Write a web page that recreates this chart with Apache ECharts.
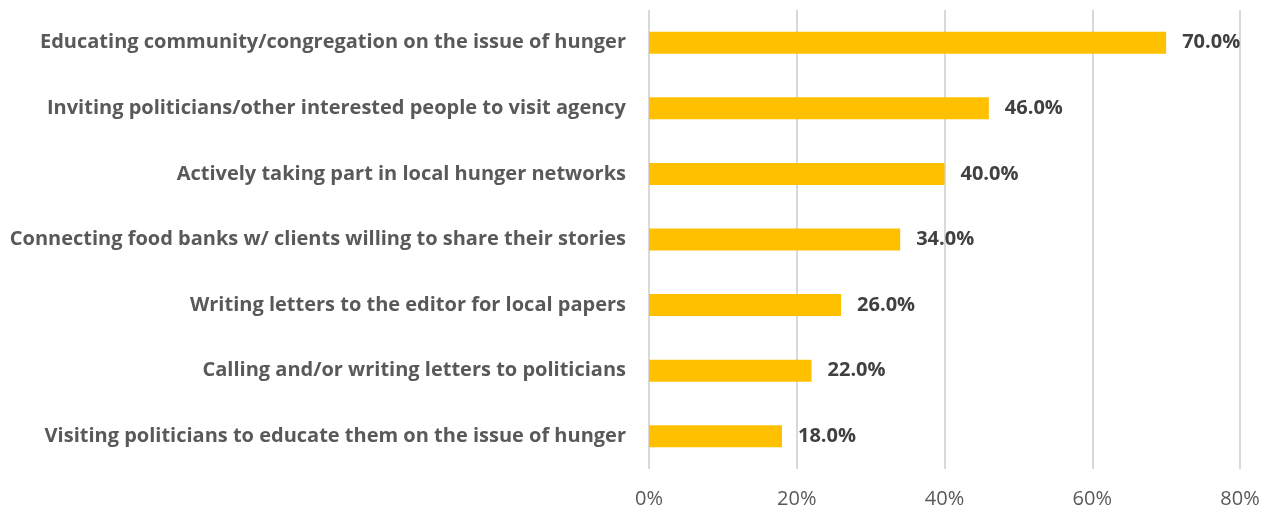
<!DOCTYPE html>
<html>
<head>
<meta charset="utf-8">
<script src="https://cdn.jsdelivr.net/npm/echarts@6/dist/echarts.min.js"></script>
<style>
html,body{margin:0;padding:0;background:#fff;}
#c{width:1274px;height:510px;}
</style>
</head>
<body>
<div id="c"></div>
<script>
const categories = [
  "Educating community/congregation on the issue of hunger",
  "Inviting politicians/other interested people to visit agency",
  "Actively taking part in local hunger networks",
  "Connecting food banks w/ clients willing to share their stories",
  "Writing letters to the editor for local papers",
  "Calling and/or writing letters to politicians",
  "Visiting politicians to educate them on the issue of hunger"
];
const values = [70, 46, 40, 34, 26, 22, 18];
const tickLabels = ["0%", "20%", "40%", "60%", "80%"];

const chart = echarts.init(document.getElementById('c'), null, {renderer: 'canvas'});
const font = "'Open Sans', 'Noto Sans', sans-serif";
chart.setOption({
  animation: false,
  backgroundColor: '#ffffff',
  grid: {left: 649, right: 34, top: 10, bottom: 41, containLabel: false},
  xAxis: {
    type: 'value', min: 0, max: 80, interval: 20,
    axisLine: {show: false}, axisTick: {show: false},
    splitLine: {show: true, lineStyle: {color: '#d9d9d9', width: 2}},
    axisLabel: {
      color: '#595959', fontSize: 20, fontFamily: font, margin: 20,
      formatter: function (v) { return tickLabels[Math.round(v / 20)]; }
    }
  },
  yAxis: {
    type: 'category', data: categories, inverse: true,
    axisLine: {show: false}, axisTick: {show: false},
    axisLabel: {color: '#595959', fontSize: 20, fontWeight: 'bold', fontFamily: font, margin: 23}
  },
  series: [{
    type: 'bar', data: values, barWidth: 22,
    itemStyle: {color: '#ffc000'},
    label: {
      show: true, position: 'right', distance: 16,
      color: '#404040', fontSize: 20, fontWeight: 'bold', fontFamily: font,
      formatter: function (p) { return p.value.toFixed(1) + '%'; }
    }
  }]
});
</script>
</body>
</html>
